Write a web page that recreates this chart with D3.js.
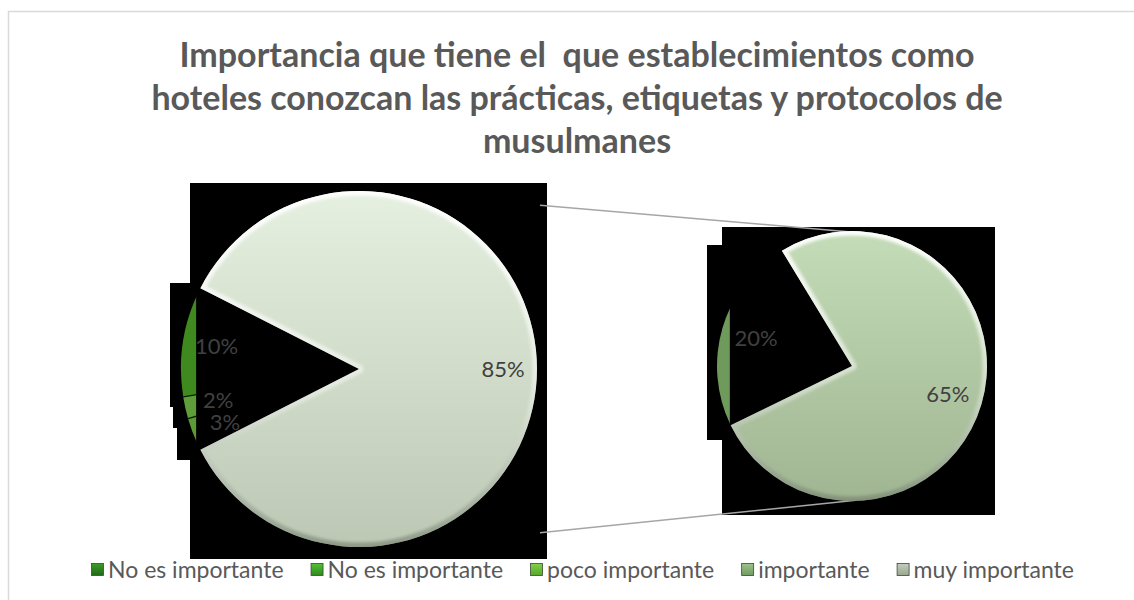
<!DOCTYPE html>
<html>
<head>
<meta charset="utf-8">
<script src="https://cdn.jsdelivr.net/npm/d3@7"></script>
<style>
  html, body { margin: 0; padding: 0; background: #ffffff; }
  svg { display: block; }
</style>
</head>
<body>
<svg id="chart" width="1134" height="600"></svg>
<script>
// Categories and their shares (%), in legend order
const categories = ["No es importante", "No es importante", "poco importante", "importante", "muy importante"];
const values = [3, 2, 10, 20, 65];
// Title lines
const titleLines = [
  "Importancia que tiene el  que establecimientos como",
  "hoteles conozcan las prácticas, etiquetas y protocolos de",
  "musulmanes"
];
// Slice colours: inner tone / rim tone for each category
const sliceInner = ["#8fcb5c", "#94cf64", "#6cc43a", "#98c882", "#c4dcb8"];
const sliceRim   = ["#5c9a36", "#5f9c3a", "#3f8a1e", "#6e9a5c", "#a0b592"];
// Grouped ("other") slice of the primary pie
const otherTop = "#e6f0e0", otherBottom = "#bcc8b4";
// Legend swatch colours (top / bottom)
const legendTop    = ["#3f9a2a", "#52c036", "#82d04c", "#9cc48a", "#c4cebe"];
const legendBottom = ["#1f6a14", "#2f8a1c", "#56a82a", "#6f9a60", "#98a690"];

const svg = d3.select("#chart");
const defs = svg.append("defs");
const W = 1134, H = 600;

svg.append("rect").attr("width", W).attr("height", H).attr("fill", "#ffffff");
svg.append("rect")
  .attr("x", 8.5).attr("y", 11.5).attr("width", 1200).attr("height", 700)
  .attr("fill", "none").attr("stroke", "#d9d9d9").attr("stroke-width", 1.5);

// Title
const title = svg.append("g").attr("font-family", "Lato, 'Open Sans', sans-serif")
  .attr("font-weight", 700).attr("font-size", 34).attr("fill", "#595959")
  .attr("text-anchor", "middle");
title.selectAll("text").data(titleLines).join("text")
  .attr("x", 577).attr("y", (d, i) => 67 + i * 43)
  .style("white-space", "pre")
  .text(d => d);

// Primary pie: the last two categories are grouped into one slice
const nSecond = 2;
const secondVals = values.slice(values.length - nSecond);
const otherTotal = d3.sum(secondVals);
const primary = [{ key: "other", value: otherTotal, idx: -1 }]
  .concat(values.slice(0, values.length - nSecond).map((v, i) => ({ key: "c" + i, value: v, idx: i })));
const secondary = secondVals.map((v, i) => ({ key: "s" + i, value: v, idx: values.length - nSecond + i }));

const deg = Math.PI / 180;
const P1 = { cx: 359, cy: 369, r: 178 };
const P2 = { cx: 852, cy: 366, r: 135 };

const otherSpan = otherTotal / 100 * 360;
const pie1 = d3.pie().sort(null).value(d => d.value)
  .startAngle((90 - otherSpan / 2) * deg).endAngle((450 - otherSpan / 2) * deg);
const pie2 = d3.pie().sort(null).value(d => d.value)
  .startAngle(244 * deg).endAngle(604 * deg);

const arcs1 = pie1(primary);
const arcs2 = pie2(secondary);

function linGrad(id, top, bottom) {
  const g = defs.append("linearGradient").attr("id", id)
    .attr("x1", 0).attr("y1", 0).attr("x2", 0).attr("y2", 1);
  g.append("stop").attr("offset", "0%").attr("stop-color", top);
  g.append("stop").attr("offset", "100%").attr("stop-color", bottom);
}
linGrad("fillOther", otherTop, otherBottom);
linGrad("fillBig", sliceInner[4], sliceRim[4]);
categories.forEach((c, i) => linGrad("leg" + i, legendTop[i], legendBottom[i]));

const rim = defs.append("linearGradient").attr("id", "rim")
  .attr("x1", 0).attr("y1", 0).attr("x2", 0).attr("y2", 1);
rim.append("stop").attr("offset", "0%").attr("stop-color", "#ffffff").attr("stop-opacity", 0.95);
rim.append("stop").attr("offset", "55%").attr("stop-color", "#ffffff").attr("stop-opacity", 0.45);
rim.append("stop").attr("offset", "100%").attr("stop-color", "#6e7a68").attr("stop-opacity", 0.6);
defs.append("filter").attr("id", "soft").append("feGaussianBlur").attr("stdDeviation", 1.6);

function sliverGrad(id, P, inner, outer) {
  const g = defs.append("radialGradient").attr("id", id)
    .attr("gradientUnits", "userSpaceOnUse")
    .attr("cx", P.cx).attr("cy", P.cy).attr("r", P.r);
  g.append("stop").attr("offset", "90%").attr("stop-color", inner);
  g.append("stop").attr("offset", "98%").attr("stop-color", inner);
  g.append("stop").attr("offset", "100%").attr("stop-color", outer);
}
[0, 1, 2].forEach(i => sliverGrad("sl" + i, P1, sliceInner[i], sliceRim[i]));
sliverGrad("sl3", P2, sliceInner[3], sliceRim[3]);

// Blocks of black behind each pie
const blocks1 = [
  [190, 183, 357, 376],
  [170, 283, 30, 124],
  [173, 407, 27, 21],
  [177, 428, 23, 32]
];
const blocks2 = [
  [722, 227, 273, 288],
  [707, 245, 16, 195]
];
svg.append("g").selectAll("rect").data(blocks1.concat(blocks2)).join("rect")
  .attr("x", d => d[0]).attr("y", d => d[1]).attr("width", d => d[2]).attr("height", d => d[3])
  .attr("fill", "#000000");

// Connector lines between the two pies
svg.append("g").attr("stroke", "#a6a6a6").attr("stroke-width", 1.6)
  .selectAll("line").data([-1, 1]).join("line")
  .attr("x1", P1.cx + P1.r + 3).attr("y1", s => P1.cy + s * P1.r * 0.92)
  .attr("x2", s => P2.cx + (s < 0 ? -4 : 4)).attr("y2", s => P2.cy + s * P2.r * 0.995);

const arc1 = d3.arc().innerRadius(0).outerRadius(P1.r);
const arc2 = d3.arc().innerRadius(0).outerRadius(P2.r);

// clip regions for the small slices (only the outer segment shows)
const cutX1 = P1.cx - P1.r * 0.915, cutX2 = P2.cx - P2.r * 0.905;
defs.append("clipPath").attr("id", "cut1").append("rect")
  .attr("x", 0).attr("y", 0).attr("width", cutX1).attr("height", H);
defs.append("clipPath").attr("id", "cut2").append("rect")
  .attr("x", 0).attr("y", 0).attr("width", cutX2).attr("height", H);

function drawPie(arcs, P, arcGen, cutId, sliverIds, labelK, bigKey, bigFill) {
  arcs.forEach(a => {
    const d = arcGen(a);
    if (a.data.key === bigKey) {
      const cid = "clip_" + a.data.key;
      defs.append("clipPath").attr("id", cid).append("path")
        .attr("d", d).attr("transform", `translate(${P.cx},${P.cy})`);
      svg.append("path").attr("d", d).attr("transform", `translate(${P.cx},${P.cy})`)
        .attr("fill", bigFill);
      // soft bevel along the slice edge
      svg.append("g").attr("clip-path", `url(#${cid})`)
        .append("path").attr("d", d).attr("transform", `translate(${P.cx},${P.cy})`)
        .attr("fill", "none").attr("stroke", "url(#rim)").attr("stroke-width", 9)
        .attr("stroke-linejoin", "round").attr("filter", "url(#soft)");
    } else {
      const g = svg.append("g").attr("clip-path", `url(#${cutId})`);
      g.append("path").attr("d", d).attr("transform", `translate(${P.cx},${P.cy})`)
        .attr("fill", `url(#${sliverIds[a.data.idx]})`);
      // thin dark separator on the slice's starting radius
      g.append("line").attr("transform", `translate(${P.cx},${P.cy})`)
        .attr("x1", 0).attr("y1", 0)
        .attr("x2", Math.sin(a.startAngle) * P.r).attr("y2", -Math.cos(a.startAngle) * P.r)
        .attr("stroke", "#0d1f08").attr("stroke-width", 1.4);
    }
  });
  const labelArc = d3.arc().innerRadius(P.r * labelK).outerRadius(P.r * labelK);
  svg.append("g").attr("font-family", "Lato, 'Open Sans', sans-serif").attr("font-size", 22)
    .attr("fill", "#404040").attr("text-anchor", "middle")
    .selectAll("text").data(arcs).join("text")
    .attr("transform", a => {
      const c = labelArc.centroid(a);
      return `translate(${P.cx + c[0]},${P.cy + c[1]})`;
    })
    .attr("dy", "0.35em")
    .text(a => a.data.value + "%");
}

drawPie(arcs1, P1, arc1, "cut1", { 0: "sl0", 1: "sl1", 2: "sl2" }, 0.81, "other", "url(#fillOther)");
drawPie(arcs2, P2, arc2, "cut2", { 3: "sl3" }, 0.74, "s1", "url(#fillBig)");

// Legend
const legend = svg.append("g").attr("font-family", "Lato, 'Open Sans', sans-serif")
  .attr("font-size", 23).attr("fill", "#595959");
let lx = 91;
categories.forEach((c, i) => {
  const item = legend.append("g").attr("transform", `translate(${lx},563)`);
  item.append("rect").attr("x", 0.5).attr("y", 0.5).attr("width", 12).attr("height", 12)
    .attr("fill", `url(#leg${i})`).attr("stroke", "#3a4a34").attr("stroke-width", 0.8);
  const t = item.append("text").attr("x", 17).attr("y", 14.5).text(c);
  const w = t.node().getComputedTextLength();
  lx += 17 + w + 27;
});
</script>
</body>
</html>
